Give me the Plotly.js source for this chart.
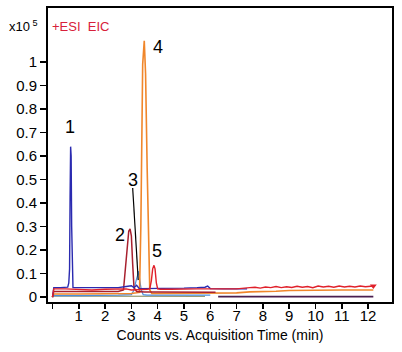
<!DOCTYPE html>
<html><head><meta charset="utf-8">
<script src="https://cdn.plot.ly/plotly-3.0.1.min.js"></script>
<style>html,body{margin:0;padding:0;background:#fff}#c{width:402px;height:352px}</style>
</head><body><div id="c"></div>
<script>
// Blue trace (peak 1)
var blueX = [0, 0.05, 0.3, 0.5, 0.58, 0.62, 0.65, 0.67, 0.69, 0.71, 0.73, 0.75, 0.78, 0.85, 1.0, 1.5, 2.0, 2.5, 2.8, 3.0, 3.1, 3.2, 3.3, 3.5, 4.0, 4.5, 5.0, 5.5, 5.8, 5.9, 6.0, 6.5, 7.0, 7.4];
var blueY = [0.0, 0.04, 0.04, 0.04, 0.042, 0.06, 0.12, 0.43, 0.64, 0.6, 0.3, 0.06, 0.04, 0.04, 0.04, 0.04, 0.04, 0.04, 0.045, 0.048, 0.04, 0.05, 0.036, 0.036, 0.036, 0.038, 0.038, 0.04, 0.042, 0.047, 0.036, 0.035, 0.035, 0.035];
// Maroon trace (peak 2)
var maroonX = [0, 0.05, 1, 2, 2.5, 2.7, 2.78, 2.84, 2.9, 2.95, 3.0, 3.05, 3.1, 3.2, 3.5, 4, 5, 5.5, 6.0, 6.2];
var maroonY = [0, 0.024, 0.024, 0.024, 0.024, 0.03, 0.12, 0.22, 0.28, 0.29, 0.26, 0.14, 0.04, 0.024, 0.022, 0.022, 0.022, 0.02, 0.02, 0.02];
// Light blue trace (peak 3)
var lblueX = [0, 0.05, 1, 2, 2.5, 3.0, 3.1, 3.18, 3.24, 3.28, 3.32, 3.38, 3.45, 3.6, 4, 5, 5.5, 6.0];
var lblueY = [0, 0.006, 0.006, 0.006, 0.008, 0.01, 0.03, 0.07, 0.1, 0.11, 0.07, 0.03, 0.01, 0.008, 0.008, 0.008, 0.01, 0.008];
// Orange trace (peak 4)
var orangeX = [0, 0.05, 1, 2, 2.5, 3.0, 3.2, 3.31, 3.36, 3.40, 3.43, 3.49, 3.52, 3.54, 3.6, 3.66, 3.7, 3.78, 4, 5, 6, 7, 7.5, 8, 8.5, 9, 10, 11, 12.2];
var orangeY = [0, 0.013, 0.013, 0.013, 0.015, 0.015, 0.018, 0.02, 0.3, 0.75, 0.99, 1.09, 0.99, 0.95, 0.55, 0.15, 0.03, 0.015, 0.015, 0.015, 0.018, 0.018, 0.022, 0.022, 0.025, 0.028, 0.03, 0.03, 0.03];
// Red trace (peak 5)
var redX = [0, 0.05, 0.5, 1, 1.5, 2, 2.5, 2.8, 3.0, 3.2, 3.4, 3.6, 3.7, 3.76, 3.81, 3.86, 3.9, 3.95, 4.0, 4.1, 4.5, 5, 5.5, 6, 6.5, 7, 7.5, 7.7, 7.9, 8.1, 8.3, 8.5, 8.7, 8.9, 9.1, 9.3, 9.5, 9.7, 9.9, 10.1, 10.3, 10.5, 10.7, 10.9, 11.1, 11.3, 11.5, 11.7, 11.9, 12.1, 12.2];
var redY = [0, 0.035, 0.035, 0.032, 0.03, 0.033, 0.035, 0.035, 0.03, 0.03, 0.032, 0.033, 0.035, 0.07, 0.12, 0.135, 0.12, 0.06, 0.035, 0.033, 0.033, 0.035, 0.035, 0.035, 0.035, 0.035, 0.04, 0.042, 0.038, 0.043, 0.04, 0.045, 0.04, 0.044, 0.041, 0.046, 0.042, 0.045, 0.04, 0.047, 0.043, 0.046, 0.042, 0.047, 0.043, 0.046, 0.043, 0.047, 0.044, 0.046, 0.047];
// Low baselines
var grayX = [0, 1, 2, 3, 4, 5, 5.8];
var grayY = [0.004, 0.004, 0.004, 0.004, 0.003, 0.003, 0.003];
var darkX = [6.3, 7, 8, 9, 10, 11, 12.2];
var darkY = [0.002, 0.002, 0.002, 0.002, 0.002, 0.002, 0.002];
// Peak labels
var peakLabels = ["1", "2", "3", "4", "5"];
var peakLabelX = [0.65, 2.55, 3.05, 4.0, 3.97];
var peakLabelY = [0.725, 0.265, 0.50, 1.065, 0.195];
var leaderX = [3.05, 3.26];
var leaderY = [0.464, 0.072];
var xTickVals = [0,1,2,3,4,5,6,7,8,9,10,11,12];
var xTickText = ["","1","2","3","4","5","6","7","8","9","10","11","12"];
var yTickVals = [0,0.1,0.2,0.3,0.4,0.5,0.6,0.7,0.8,0.9,1];
var yTickText = ["0","0.1","0.2","0.3","0.4","0.5","0.6","0.7","0.8","0.9","1"];

function tr(x, y, c, w) { return {x:x, y:y, type:'scatter', mode:'lines', line:{color:c, width:w||1.4}, hoverinfo:'skip'}; }
var data = [
  tr(grayX, grayY, '#9a9a70', 1.2),
  tr(darkX, darkY, '#4a1f4f', 1.6),
  tr(lblueX, lblueY, '#4a8fe0', 1.2),
  tr(orangeX, orangeY, '#f0862a', 1.6),
  tr(maroonX, maroonY, '#a8202e', 1.5),
  tr(blueX, blueY, '#2a2ab0', 1.4),
  tr(redX, redY, '#e0202a', 1.4),
  {x:[redX[redX.length-1]], y:[redY[redY.length-1]], type:'scatter', mode:'markers', marker:{symbol:'triangle-down', size:6, color:'#e0202a'}, hoverinfo:'skip'}
];
var ann = [];
for (var i = 0; i < peakLabels.length; i++) {
  ann.push({x:peakLabelX[i], y:peakLabelY[i], xref:'x', yref:'y', text:peakLabels[i], showarrow:false, font:{size:18, color:'#000', family:'Liberation Sans, Arial, sans-serif'}});
}
ann.push({xref:'paper', yref:'paper', x:-0.118, y:1.0, xanchor:'left', yanchor:'top', yshift:-8, text:'x10<sup> 5</sup>', showarrow:false, font:{size:13, color:'#000', family:'Liberation Sans, Arial, sans-serif'}});
ann.push({xref:'paper', yref:'paper', x:0.005, y:1.0, xanchor:'left', yanchor:'top', yshift:-9, text:'+ESI  EIC', showarrow:false, font:{size:13, color:'#d8203a', family:'Liberation Sans, Arial, sans-serif'}});

var layout = {
  width:402, height:352,
  margin:{l:48, r:10, t:8, b:50},
  paper_bgcolor:'#fff', plot_bgcolor:'#fff',
  showlegend:false,
  font:{family:'Liberation Sans, Arial, sans-serif', color:'#000', size:15},
  xaxis:{range:[-0.17, 12.91], tickvals:xTickVals, ticktext:xTickText, ticks:'outside', ticklen:5, tickwidth:1.5, tickcolor:'#000',
         ticklabelstandoff:-6,
         showline:true, linewidth:2, linecolor:'#000', mirror:true, showgrid:false, zeroline:false,
         tickfont:{size:15}, title:{text:'Counts vs. Acquisition Time (min)', font:{size:14}, standoff:7}},
  yaxis:{range:[-0.021, 1.23], tickvals:yTickVals, ticktext:yTickText, ticks:'outside', ticklen:6, tickwidth:1.5, tickcolor:'#000',
         showline:true, linewidth:2, linecolor:'#000', mirror:true, showgrid:false, zeroline:false, tickfont:{size:15}},
  shapes:[{type:'line', xref:'x', yref:'y', x0:leaderX[0], y0:leaderY[0], x1:leaderX[1], y1:leaderY[1], line:{color:'#000', width:1.2}}],
  annotations:ann
};
Plotly.newPlot('c', data, layout, {staticPlot:true, displayModeBar:false});
</script></body></html>
